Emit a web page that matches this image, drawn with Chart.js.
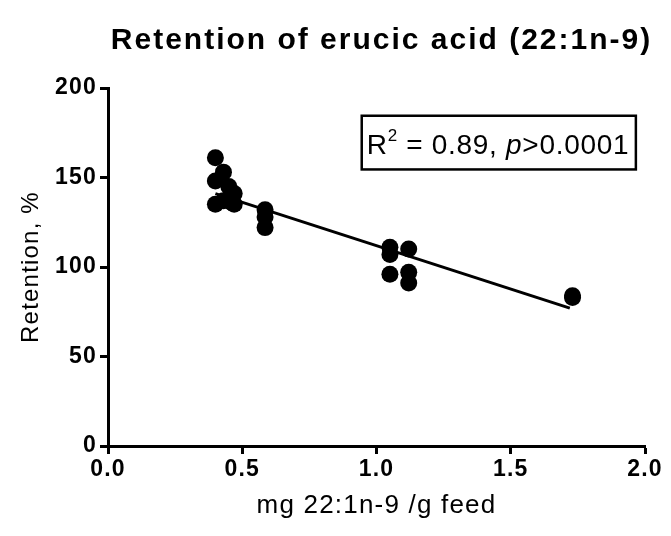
<!DOCTYPE html>
<html>
<head>
<meta charset="utf-8">
<script src="https://cdn.jsdelivr.net/npm/chart.js@4.4.1/dist/chart.umd.min.js"></script>
<style>
  html, body { margin: 0; padding: 0; background: #fff; }
  #chart { display: block; }
</style>
</head>
<body>
<canvas id="chart" width="671" height="536"></canvas>
<script>
// feed level (mg 22:1n-9 /g feed) and retention (%)
const doseX = [0.40, 0.40, 0.40, 0.43, 0.43, 0.45, 0.46, 0.47, 0.47, 0.585, 0.585, 0.585, 1.05, 1.05, 1.05, 1.12, 1.12, 1.12, 1.73, 1.73];
const retentionY = [161, 148, 135, 153, 137, 145, 136, 141, 135, 132, 128, 122, 111, 107, 96, 110, 97, 91, 84, 83];

// regression line end points
const fitX = [0.40, 1.72];
const fitY = [141, 77];

const xTickLabels = ['0.0', '0.5', '1.0', '1.5', '2.0'];
const yTickLabels = ['0', '50', '100', '150', '200'];

const chartTitle = 'Retention of erucic acid (22:1n-9)';
const xTitle = 'mg 22:1n-9 /g feed';
const yTitle = 'Retention, %';

const FONT = '"Liberation Sans", Arial, sans-serif';

// Helper: zip two arrays into {x, y} points
function toPoints(xs, ys) {
    return xs.map(function(x, i) { return { x: x, y: ys[i] }; });
}

// the original text is set a little wide, so space letters out
const spacingPlugin = {
    id: 'letterSpacing',
    beforeDraw(chart) {
        chart.ctx.letterSpacing = '1.2px';
    }
};

// Title drawn centred over the plot area
const titlePlugin = {
    id: 'plotTitle',
    afterDraw(chart) {
        const ctx = chart.ctx;
        const area = chart.chartArea;
        ctx.save();
        ctx.letterSpacing = '2px';
        ctx.fillStyle = '#000';
        ctx.font = 'bold 30px ' + FONT;
        ctx.textAlign = 'center';
        ctx.textBaseline = 'middle';
        ctx.fillText(chartTitle, (area.left + area.right) / 2 + 5, 41);
        ctx.restore();
    }
};

// Boxed R² / p annotation
const statsPlugin = {
    id: 'statsBox',
    afterDraw(chart) {
        const ctx = chart.ctx;
        const xs = chart.scales.x;
        const ys = chart.scales.y;
        const left = xs.getPixelForValue(0.945);
        const right = xs.getPixelForValue(1.966);
        const top = ys.getPixelForValue(184.5);
        const bottom = ys.getPixelForValue(154.5);
        ctx.save();
        ctx.letterSpacing = '0.7px';
        ctx.lineWidth = 2.5;
        ctx.strokeStyle = '#000';
        ctx.strokeRect(left, top, right - left, bottom - top);

        ctx.fillStyle = '#000';
        ctx.textBaseline = 'alphabetic';
        ctx.textAlign = 'left';
        const base = top + (bottom - top) / 2 + 11;
        let x = left + 5;
        ctx.font = '28px ' + FONT;
        ctx.fillText('R', x, base);
        x += ctx.measureText('R').width;
        ctx.font = '17px ' + FONT;
        ctx.fillText('2', x, base - 13);
        x += ctx.measureText('2').width;
        ctx.font = '28px ' + FONT;
        ctx.fillText(' = 0.89, ', x, base);
        x += ctx.measureText(' = 0.89, ').width;
        ctx.font = 'italic 28px ' + FONT;
        ctx.fillText('p', x, base);
        x += ctx.measureText('p').width;
        ctx.font = '28px ' + FONT;
        ctx.fillText('>0.0001', x, base);
        ctx.restore();
    }
};

const ctx = document.getElementById('chart').getContext('2d');
new Chart(ctx, {
    type: 'scatter',
    data: {
        datasets: [
            {
                type: 'line',
                data: toPoints(fitX, fitY),
                borderColor: '#000',
                borderWidth: 3,
                pointRadius: 0,
                fill: false,
                order: 2
            },
            {
                data: toPoints(doseX, retentionY),
                backgroundColor: '#000',
                borderWidth: 0,
                pointRadius: 8.5,
                pointHoverRadius: 8.5,
                order: 1
            }
        ]
    },
    options: {
        responsive: false,
        animation: false,
        events: [],
        layout: { padding: { top: 88, right: 26, left: 0, bottom: 0 } },
        plugins: {
            legend: { display: false },
            tooltip: { enabled: false },
            title: { display: false }
        },
        scales: {
            x: {
                type: 'linear',
                min: 0,
                max: 2,
                afterFit: function(scale) { scale.height = 90; },
                afterBuildTicks: function(scale) {
                    scale.ticks = xTickLabels.map(function(t) { return { value: parseFloat(t) }; });
                },
                ticks: {
                    callback: function(v, i) { return xTickLabels[i]; },
                    color: '#000',
                    font: { family: FONT, size: 23, weight: 'bold' },
                    padding: 2,
                    maxRotation: 0
                },
                grid: {
                    display: true,
                    drawOnChartArea: false,
                    drawTicks: true,
                    tickLength: 8,
                    tickWidth: 3,
                    tickColor: '#000'
                },
                border: { display: true, color: '#000', width: 3 },
                title: {
                    display: true,
                    text: xTitle,
                    color: '#000',
                    font: { family: FONT, size: 26 },
                    padding: { top: 0, bottom: 15 }
                }
            },
            y: {
                type: 'linear',
                min: 0,
                max: 200,
                afterFit: function(scale) { scale.width = 108; },
                afterBuildTicks: function(scale) {
                    scale.ticks = yTickLabels.map(function(t) { return { value: parseFloat(t) }; });
                },
                ticks: {
                    callback: function(v, i) { return yTickLabels[i]; },
                    color: '#000',
                    font: { family: FONT, size: 23, weight: 'bold' },
                    padding: 3
                },
                grid: {
                    display: true,
                    drawOnChartArea: false,
                    drawTicks: true,
                    tickLength: 8,
                    tickWidth: 3,
                    tickColor: '#000'
                },
                border: { display: true, color: '#000', width: 3 },
                title: {
                    display: true,
                    text: yTitle,
                    color: '#000',
                    font: { family: FONT, size: 24 },
                    padding: { top: 17, bottom: 0 }
                }
            }
        }
    },
    plugins: [spacingPlugin, titlePlugin, statsPlugin]
});
</script>
</body>
</html>
